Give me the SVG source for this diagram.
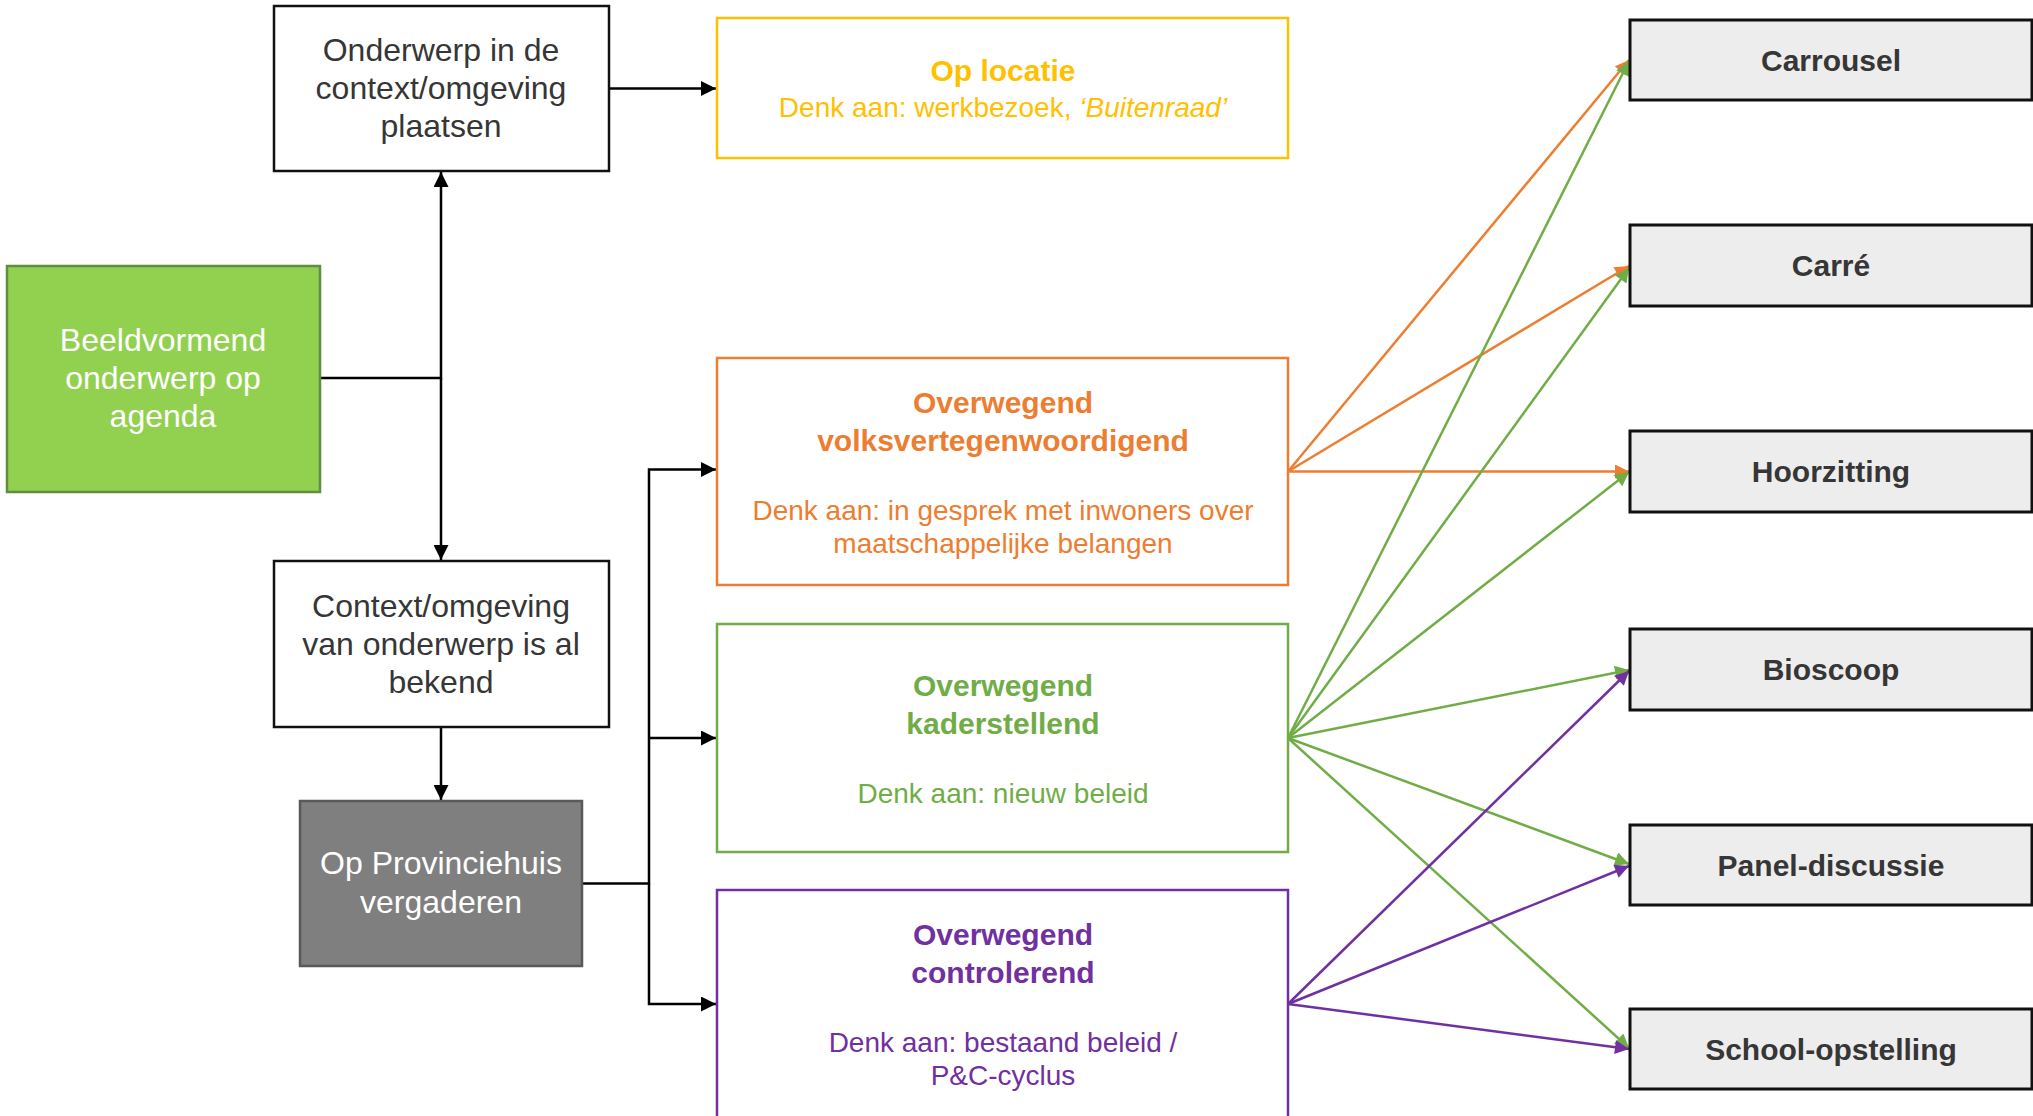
<svg xmlns="http://www.w3.org/2000/svg" width="2033" height="1116" viewBox="0 0 2033 1116">
<defs>
<style>
text{font-family:"Liberation Sans",Arial,sans-serif;text-anchor:middle}
.nt{font-size:32px;fill:#363636}
.wt{font-size:32px;fill:#ffffff}
.rt{font-size:30px;font-weight:bold;fill:#363636}
.tt{font-size:30px;font-weight:bold}
.st{font-size:28px}
.box{fill:#ffffff;stroke:#111;stroke-width:2.5}
.rbox{fill:#ededed;stroke:#111;stroke-width:3}
.blk{fill:none;stroke:#000;stroke-width:2.5}
.or{fill:none;stroke:#ED7D31;stroke-width:2.5}
.gr{fill:none;stroke:#70AD47;stroke-width:2.5}
.pu{fill:none;stroke:#7030A0;stroke-width:2.5}
</style>
<marker id="ab" viewBox="0 0 10 10" refX="10" refY="5" markerUnits="userSpaceOnUse" markerWidth="15" markerHeight="15" orient="auto"><path d="M0,0 L10,5 L0,10 z" fill="#000"/></marker>
<marker id="ao" viewBox="0 0 10 10" refX="10" refY="5" markerUnits="userSpaceOnUse" markerWidth="16" markerHeight="14" orient="auto"><path d="M0,0 L10,5 L0,10 z" fill="#ED7D31"/></marker>
<marker id="ag" viewBox="0 0 10 10" refX="10" refY="5" markerUnits="userSpaceOnUse" markerWidth="16" markerHeight="14" orient="auto"><path d="M0,0 L10,5 L0,10 z" fill="#70AD47"/></marker>
<marker id="ap" viewBox="0 0 10 10" refX="10" refY="5" markerUnits="userSpaceOnUse" markerWidth="16" markerHeight="14" orient="auto"><path d="M0,0 L10,5 L0,10 z" fill="#7030A0"/></marker>
</defs>
<rect width="2033" height="1116" fill="#ffffff"/>

<g id="connectors">
<path class="blk" d="M609,88.5 H716" marker-end="url(#ab)"/>
<path class="blk" d="M320,378 H441 V172" marker-end="url(#ab)"/>
<path class="blk" d="M441,378 V560" marker-end="url(#ab)"/>
<path class="blk" d="M441,727 V800" marker-end="url(#ab)"/>
<path class="blk" d="M582,883.5 H649 V469.5 H716" marker-end="url(#ab)"/>
<path class="blk" d="M649,738 H716" marker-end="url(#ab)"/>
<path class="blk" d="M649,883.5 V1004 H716" marker-end="url(#ab)"/>

<path class="or" d="M1288,471.5 L1629,60" marker-end="url(#ao)"/>
<path class="or" d="M1288,471.5 L1629,266" marker-end="url(#ao)"/>
<path class="or" d="M1288,471.5 L1629,471.5" marker-end="url(#ao)"/>

<path class="gr" d="M1288,738 L1629,61" marker-end="url(#ag)"/>
<path class="gr" d="M1288,738 L1629,268" marker-end="url(#ag)"/>
<path class="gr" d="M1288,738 L1629,472" marker-end="url(#ag)"/>
<path class="gr" d="M1288,738 L1629,670" marker-end="url(#ag)"/>
<path class="gr" d="M1288,738 L1629,864" marker-end="url(#ag)"/>
<path class="gr" d="M1288,738 L1629,1048" marker-end="url(#ag)"/>

<path class="pu" d="M1288,1004 L1629,671" marker-end="url(#ap)"/>
<path class="pu" d="M1288,1004 L1629,866" marker-end="url(#ap)"/>
<path class="pu" d="M1288,1004 L1629,1049" marker-end="url(#ap)"/>
</g>

<g id="node-context-plaatsen">
<rect class="box" x="274" y="6" width="335" height="165"/>
<text class="nt" x="441" y="61">Onderwerp in de</text>
<text class="nt" x="441" y="99">context/omgeving</text>
<text class="nt" x="441" y="137">plaatsen</text>
</g>

<g id="node-beeldvormend">
<rect x="7" y="266" width="313" height="226" fill="#92D050" stroke="#5E8E3E" stroke-width="2.5"/>
<text class="wt" x="163" y="351">Beeldvormend</text>
<text class="wt" x="163" y="389">onderwerp op</text>
<text class="wt" x="163" y="427">agenda</text>
</g>

<g id="node-context-bekend">
<rect class="box" x="274" y="561" width="335" height="166"/>
<text class="nt" x="441" y="617">Context/omgeving</text>
<text class="nt" x="441" y="655">van onderwerp is al</text>
<text class="nt" x="441" y="693">bekend</text>
</g>

<g id="node-provinciehuis">
<rect x="300" y="801" width="282" height="165" fill="#7F7F7F" stroke="#595959" stroke-width="2.5"/>
<text class="wt" x="441" y="874">Op Provinciehuis</text>
<text class="wt" x="441" y="913">vergaderen</text>
</g>

<g id="node-op-locatie">
<rect x="717" y="18" width="571" height="140" fill="#ffffff" stroke="#FFC000" stroke-width="2.5"/>
<text class="tt" x="1003" y="81" fill="#FFC000">Op locatie</text>
<text class="st" x="1003" y="117" fill="#FFC000">Denk aan: werkbezoek, <tspan font-style="italic">‘Buitenraad’</tspan></text>
</g>

<g id="node-volksvertegenwoordigend">
<rect x="717" y="358" width="571" height="227" fill="#ffffff" stroke="#ED7D31" stroke-width="2.5"/>
<text class="tt" x="1003" y="413" fill="#ED7D31">Overwegend</text>
<text class="tt" x="1003" y="451" fill="#ED7D31">volksvertegenwoordigend</text>
<text class="st" x="1003" y="520" fill="#ED7D31">Denk aan: in gesprek met inwoners over</text>
<text class="st" x="1003" y="553" fill="#ED7D31">maatschappelijke belangen</text>
</g>

<g id="node-kaderstellend">
<rect x="717" y="624" width="571" height="228" fill="#ffffff" stroke="#70AD47" stroke-width="2.5"/>
<text class="tt" x="1003" y="696" fill="#70AD47">Overwegend</text>
<text class="tt" x="1003" y="734" fill="#70AD47">kaderstellend</text>
<text class="st" x="1003" y="803" fill="#70AD47">Denk aan: nieuw beleid</text>
</g>

<g id="node-controlerend">
<rect x="717" y="890" width="571" height="240" fill="#ffffff" stroke="#7030A0" stroke-width="2.5"/>
<text class="tt" x="1003" y="945" fill="#7030A0">Overwegend</text>
<text class="tt" x="1003" y="983" fill="#7030A0">controlerend</text>
<text class="st" x="1003" y="1052" fill="#7030A0">Denk aan: bestaand beleid /</text>
<text class="st" x="1003" y="1085" fill="#7030A0">P&amp;C-cyclus</text>
</g>

<g id="node-carrousel">
<rect class="rbox" x="1630" y="20" width="402" height="80"/>
<text class="rt" x="1831" y="71">Carrousel</text>
</g>
<g id="node-carre">
<rect class="rbox" x="1630" y="225" width="402" height="81"/>
<text class="rt" x="1831" y="276">Carré</text>
</g>
<g id="node-hoorzitting">
<rect class="rbox" x="1630" y="431" width="402" height="81"/>
<text class="rt" x="1831" y="482">Hoorzitting</text>
</g>
<g id="node-bioscoop">
<rect class="rbox" x="1630" y="629" width="402" height="81"/>
<text class="rt" x="1831" y="680">Bioscoop</text>
</g>
<g id="node-panel">
<rect class="rbox" x="1630" y="825" width="402" height="80"/>
<text class="rt" x="1831" y="876">Panel-discussie</text>
</g>
<g id="node-school">
<rect class="rbox" x="1630" y="1009" width="402" height="80"/>
<text class="rt" x="1831" y="1060">School-opstelling</text>
</g>
</svg>
